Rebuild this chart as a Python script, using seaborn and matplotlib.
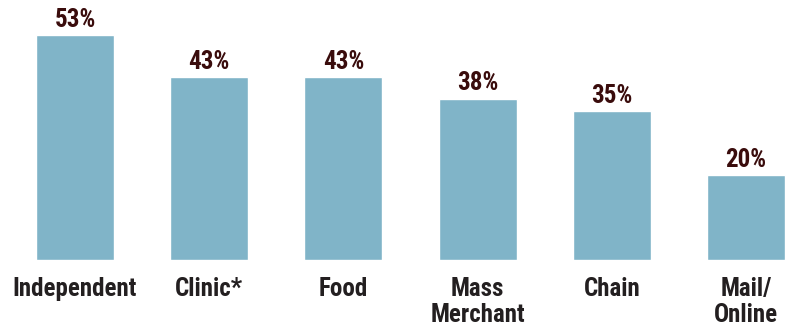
import matplotlib
matplotlib.use("Agg")
import matplotlib.pyplot as plt
import seaborn as sns
import pandas as pd

categories = ["Independent", "Clinic*", "Food", "Mass\nMerchant", "Chain", "Mail/\nOnline"]
values = [53, 43, 43, 38, 35, 20]
value_labels = ["53%", "43%", "43%", "38%", "35%", "20%"]

sns.set_style("white")
plt.rcParams['font.family'] = ['Roboto Condensed', 'DejaVu Sans']

df = pd.DataFrame({"cat": categories, "val": values})

fig = plt.figure(figsize=(7.88, 3.28), dpi=100)
ax = fig.add_axes([0, 68/328, 1, 260/328])
sns.barplot(data=df, x="cat", y="val", color="#80b4c8", saturation=1, width=0.58, ax=ax)

ax.set_xlim(-0.559, 5.313)
ax.set_ylim(0, 61.25)
for s in ax.spines.values():
    s.set_visible(False)
ax.set_yticks([])
ax.set_xlabel("")
ax.set_ylabel("")
ax.tick_params(axis="x", length=0, pad=12.5)
ax.set_xticks(range(len(categories)))
ax.set_xticklabels(categories, fontsize=18, fontweight="bold", color="#231f20", linespacing=1.1)

for i, (v, lab) in enumerate(zip(values, value_labels)):
    ax.annotate(lab, (i, v), xytext=(0, 6), textcoords="offset points",
                ha="center", va="baseline", fontsize=18, fontweight="bold", color="#3a0c0c")

fig.savefig("out.png", dpi=100)
